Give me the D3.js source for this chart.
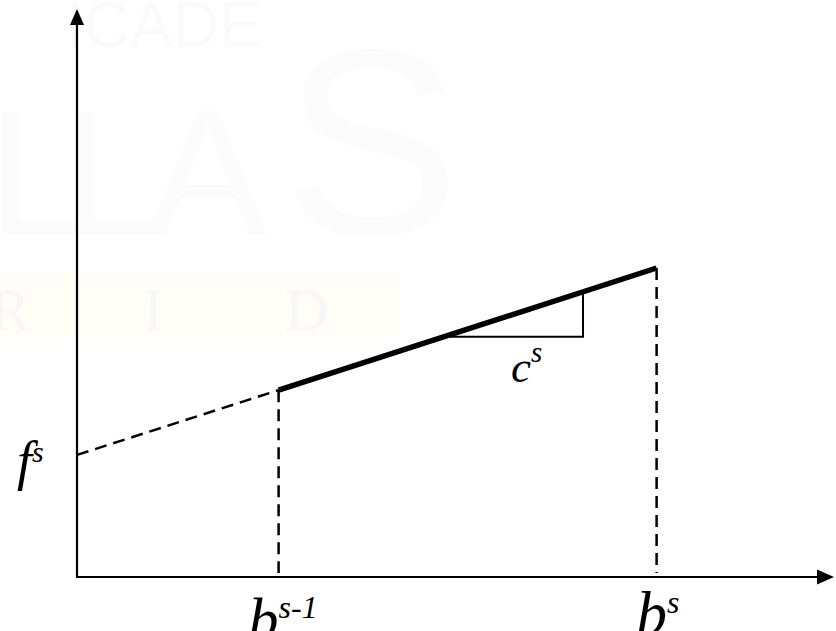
<!DOCTYPE html>
<html>
<head>
<meta charset="utf-8">
<script src="https://cdn.jsdelivr.net/npm/d3@7"></script>
<style>
  html, body { margin: 0; padding: 0; background: #fff; }
  svg { display: block; }
</style>
</head>
<body>
<div id="chart"></div>
<script>
const width = 836;
const height = 631;

// data (axis units)
const xDomain = [0, 15];
const yDomain = [0, 10];
const breakpoints = [4, 11.5];          // b^{s-1}, b^s
const extension = [[0, 2.15], [4, 3.29]]; // dashed part back to intercept f^s
const segment = [[4, 3.29], [11.5, 5.44]]; // active piece, slope c^s
const slopeMark = [[7.4, 4.23], [10.04, 4.23], [10.04, 5.04]];

const serif = 'Liberation Serif, Times New Roman, serif';

let x = d3.scaleLinear().domain(xDomain).range([77, 833]);
let y = d3.scaleLinear().domain(yDomain).range([577, 9]);

let svg = d3.select('#chart').append('svg')
  .attr('width', width)
  .attr('height', height);

// faint watermark in the background
let wm = svg.append('g').attr('font-family', 'Liberation Sans, sans-serif');
wm.append('rect').attr('x', 0).attr('y', 273).attr('width', 400).attr('height', 65).attr('fill', '#fffdf6');
wm.append('text').attr('x', 66).attr('y', 47).attr('font-size', 64)
  .attr('fill', '#fafafa').text('ICADE');
wm.selectAll('.big').data([['L', -12, 178], ['L', 62, 178], ['A', 148, 178], ['S', 283, 265]]).enter().append('text')
  .attr('x', d => d[1]).attr('y', 234).attr('font-size', d => d[2])
  .attr('fill', '#fbfbfb').text(d => d[0]);
wm.selectAll('.rid').data([['R', -10], ['I', 143], ['D', 285]]).enter().append('text')
  .attr('x', d => d[1]).attr('y', 330)
  .attr('font-family', serif).attr('font-size', 60)
  .attr('fill', '#f7f7f8').text(d => d[0]);

let line = d3.line().x(d => x(d[0])).y(d => y(d[1]));

// axes
svg.append('line')
  .attr('x1', x(0)).attr('y1', y(0)).attr('x2', x(0)).attr('y2', y(yDomain[1]) + 14)
  .attr('stroke', '#000').attr('stroke-width', 2.2);
svg.append('line')
  .attr('x1', x(0) - 1).attr('y1', y(0)).attr('x2', x(xDomain[1]) - 14).attr('y2', y(0))
  .attr('stroke', '#000').attr('stroke-width', 2.2);
svg.append('path')
  .attr('d', `M${x(0)},${y(yDomain[1])}L${x(0) - 7},${y(yDomain[1]) + 16}L${x(0) + 7},${y(yDomain[1]) + 16}Z`)
  .attr('fill', '#000');
svg.append('path')
  .attr('d', `M${x(xDomain[1]) + 1},${y(0)}L${x(xDomain[1]) - 16},${y(0) - 7.5}L${x(xDomain[1]) - 16},${y(0) + 7.5}Z`)
  .attr('fill', '#000');

// dashed extension to f^s
svg.append('path')
  .attr('d', line(extension))
  .attr('fill', 'none').attr('stroke', '#000').attr('stroke-width', 2.5)
  .attr('stroke-dasharray', '12,7');

// vertical dashed drop lines
let tops = [segment[0][1], segment[1][1]];
svg.selectAll('.drop').data(breakpoints).enter().append('line')
  .attr('x1', d => x(d)).attr('x2', d => x(d))
  .attr('y1', (d, i) => y(tops[i])).attr('y2', y(0) - 4)
  .attr('stroke', '#000').attr('stroke-width', 2.5)
  .attr('stroke-dasharray', '12,7');

// slope triangle
svg.append('path')
  .attr('d', line(slopeMark))
  .attr('fill', 'none').attr('stroke', '#000').attr('stroke-width', 2);

// active segment
svg.append('path')
  .attr('d', line(segment))
  .attr('fill', 'none').attr('stroke', '#000').attr('stroke-width', 5.5);

// labels
function label(px, py, main, sup, size, supSize, dy) {
  let t = svg.append('text').attr('x', px).attr('y', py)
    .attr('font-family', serif).attr('font-style', 'italic').attr('fill', '#000');
  t.append('tspan').attr('font-size', size).text(main);
  t.append('tspan').attr('font-size', supSize).attr('dy', dy).text(sup);
}

label(x(0) - 60, y(extension[0][1]) + 24, 'f', 's', 54, 30, -17);
label(x(slopeMark[0][0]) + 61, 382, 'c', 's', 45, 29, -20);
label(x(breakpoints[0]) - 30, 639, 'b', 's-1', 60, 32, -21);
label(x(breakpoints[1]) - 20, 634, 'b', 's', 61, 32, -21);
</script>
</body>
</html>
